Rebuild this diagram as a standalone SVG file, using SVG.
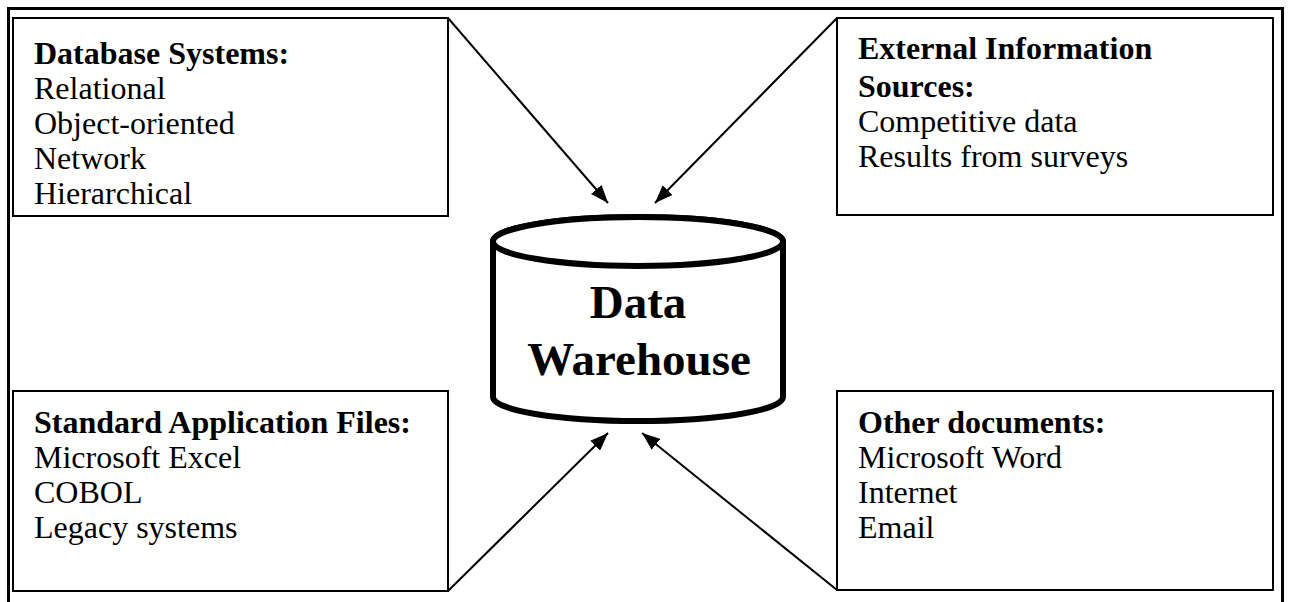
<svg xmlns="http://www.w3.org/2000/svg" width="1289" height="602" viewBox="0 0 1289 602">
  <style>
    .frame { stroke: #000; stroke-width: 3; fill: none; }
    .box { fill: #fff; stroke: #000; stroke-width: 2; }
    .txt { font-family: "Liberation Serif", "Times New Roman", serif; font-size: 32px; fill: #000; }
    .hd { font-weight: bold; }
    .big { font-family: "Liberation Serif", "Times New Roman", serif; font-size: 47px; font-weight: bold; fill: #000; text-anchor: middle; }
    .conn { stroke: #000; stroke-width: 2; fill: none; marker-end: url(#head); }
    .cyl { fill: #fff; stroke: #000; stroke-width: 6; }
  </style>
  <defs>
    <marker id="head" viewBox="0 0 18 14" refX="18" refY="7" markerWidth="18" markerHeight="14" markerUnits="userSpaceOnUse" orient="auto">
      <path d="M0,0 L18,7 L0,14 Z" fill="#000"/>
    </marker>
  </defs>

  <rect width="1289" height="602" fill="#fff"/>

  <!-- page frame: top, left and right rules -->
  <g id="frame">
    <line class="frame" x1="7" y1="8.5" x2="1284" y2="8.5"/>
    <line class="frame" x1="8.5" y1="7" x2="8.5" y2="602"/>
    <line class="frame" x1="1282.5" y1="7" x2="1282.5" y2="602"/>
  </g>

  <!-- connectors into the warehouse -->
  <g id="connectors">
    <line class="conn" x1="448" y1="18" x2="608" y2="203"/>
    <line class="conn" x1="837" y1="18" x2="655" y2="203"/>
    <line class="conn" x1="448" y1="591" x2="608" y2="433"/>
    <line class="conn" x1="837" y1="590" x2="642" y2="433"/>
  </g>

  <g id="database-systems">
    <rect class="box" x="13" y="18" width="435" height="198"/>
    <text class="txt hd" x="34" y="64">Database Systems:</text>
    <text class="txt" x="34" y="99">Relational</text>
    <text class="txt" x="34" y="134">Object-oriented</text>
    <text class="txt" x="34" y="169">Network</text>
    <text class="txt" x="34" y="204">Hierarchical</text>
  </g>

  <g id="external-sources">
    <rect class="box" x="837" y="18" width="436" height="197"/>
    <text class="txt hd" x="858" y="59">External Information</text>
    <text class="txt hd" x="858" y="97">Sources:</text>
    <text class="txt" x="858" y="132">Competitive data</text>
    <text class="txt" x="858" y="167">Results from surveys</text>
  </g>

  <g id="application-files">
    <rect class="box" x="13" y="391" width="435" height="200"/>
    <text class="txt hd" x="34" y="433">Standard Application Files:</text>
    <text class="txt" x="34" y="468">Microsoft Excel</text>
    <text class="txt" x="34" y="503">COBOL</text>
    <text class="txt" x="34" y="538">Legacy systems</text>
  </g>

  <g id="other-documents">
    <rect class="box" x="837" y="391" width="436" height="199"/>
    <text class="txt hd" x="858" y="433">Other documents:</text>
    <text class="txt" x="858" y="468">Microsoft Word</text>
    <text class="txt" x="858" y="503">Internet</text>
    <text class="txt" x="858" y="538">Email</text>
  </g>

  <g id="data-warehouse">
    <path class="cyl" d="M493,241.5 L493,397 A145,24 0 0 0 783,397 L783,241.5 A145,24.5 0 0 0 493,241.5 Z"/>
    <ellipse class="cyl" cx="638" cy="241.5" rx="145" ry="24.5"/>
    <text class="big" x="638" y="318">Data</text>
    <text class="big" x="639" y="375">Warehouse</text>
  </g>
</svg>
